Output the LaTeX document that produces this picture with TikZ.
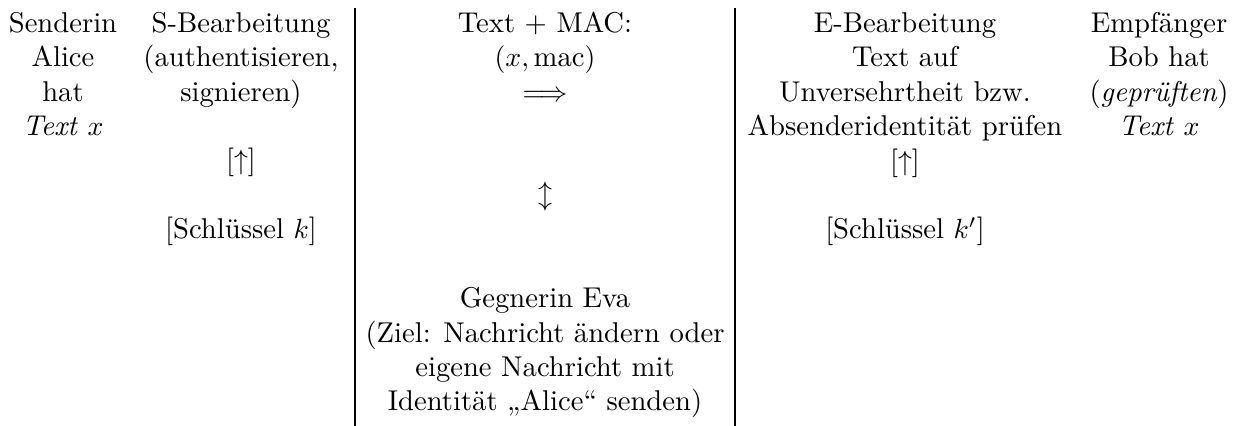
\documentclass[tikz,border=0pt]{standalone}
\usepackage{fontspec}
\usepackage{amsmath}
\newcommand{\tstrut}{\rule{0pt}{8pt}}
\begin{document}
\begin{tikzpicture}[x=0.35971pt,y=-0.35971pt,
  cell/.style={anchor=north,inner sep=0pt,align=center,font=\fontsize{10.3}{12.37}\selectfont},
  one/.style={anchor=base,inner sep=0pt,font=\fontsize{10.3}{12.37}\selectfont},
  sep/.style={line width=0.4pt}]
\useasboundingbox (0,0) rectangle (1237,426);
\coordinate (l1t) at (355,8); \coordinate (l1b) at (355,426);
\coordinate (l2t) at (735,8); \coordinate (l2b) at (735,426);
\draw[sep] (l1t) -- (l1b);
\draw[sep] (l2t) -- (l2b);
\node[cell] (alice) at (63,9.76) {\tstrut Senderin\\Alice\\hat\\\textit{Text} $x$};
\node[cell] (sbear) at (241,9.76) {\tstrut S-Bearbeitung\\(authentisieren,\\signieren)};
\node[one] (sup) at (241,169.6) {[$\uparrow$]};
\node[one] (skey) at (241,238.4) {[Schlüssel $k$]};
\node[cell] (chan) at (545,9.76) {\tstrut Text + MAC:\\$(x,\mathrm{mac})$\\$\Longrightarrow$};
\node[one] (updown) at (545,204) {$\updownarrow$};
\node[cell] (eva) at (545,284.96) {\tstrut Gegnerin Eva\\(Ziel: Nachricht ändern oder\\eigene Nachricht mit\\Identität „Alice“ senden)};
\node[cell] (ebear) at (905,9.76) {\tstrut E-Bearbeitung\\Text auf\\Unversehrtheit bzw.\\Absenderidentität prüfen\\{[$\uparrow$]}};
\node[one] (ekey) at (905,238.4) {[Schlüssel $k'$]};
\node[cell] (bob) at (1159,9.76) {\tstrut Empfänger\\Bob hat\\(\textit{geprüften})\\\textit{Text} $x$};
\end{tikzpicture}
\end{document}
